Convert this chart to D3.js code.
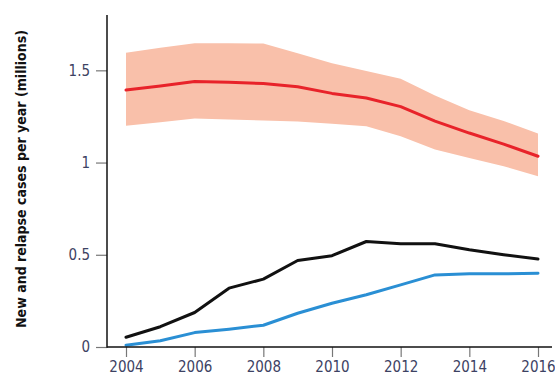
<!DOCTYPE html>
<html><head><meta charset="utf-8">
<script src="https://cdn.jsdelivr.net/npm/d3@7"></script>
<style>body{margin:0;background:#fff}</style>
</head><body>
<svg id="c" width="555" height="380"></svg>
<script>
const years = [2004,2005,2006,2007,2008,2009,2010,2011,2012,2013,2014,2015,2016];
const totalEst = [1.393,1.415,1.44,1.435,1.429,1.411,1.375,1.35,1.303,1.225,1.16,1.10,1.034];
const totalHigh = [1.596,1.623,1.647,1.647,1.645,1.592,1.538,1.496,1.455,1.364,1.284,1.225,1.158];
const totalLow = [1.20,1.219,1.239,1.234,1.228,1.223,1.21,1.197,1.143,1.071,1.025,0.98,0.926];
const notified = [0.053,0.11,0.187,0.319,0.368,0.469,0.495,0.572,0.56,0.56,0.527,0.50,0.477];
const treated = [0.01,0.034,0.078,0.096,0.118,0.183,0.237,0.283,0.337,0.391,0.397,0.397,0.40];
const yTicks = [0,0.5,1,1.5];
const xTicks = [2004,2006,2008,2010,2012,2014,2016];
const yLabel = "New and relapse cases per year (millions)";

const svg = d3.select("#c");
const x = d3.scaleLinear().domain([2004,2016]).range([126,538]);
const y = d3.scaleLinear().domain([0,1.8]).range([347,15]);
const font = "'DejaVu Sans Condensed','DejaVu Sans',sans-serif";
const txtCol = "#3d4263";

const data = years.map((yr,i)=>({yr, est:totalEst[i], hi:totalHigh[i], lo:totalLow[i], n:notified[i], t:treated[i]}));

svg.append("path").datum(data)
  .attr("d", d3.area().x(d=>x(d.yr)).y0(d=>y(d.lo)).y1(d=>y(d.hi)))
  .attr("fill","#f9c0aa");

const line = acc => d3.line().x(d=>x(d.yr)).y(d=>y(acc(d)));
const addLine = (acc,col) => svg.append("path").datum(data).attr("d", line(acc))
  .attr("fill","none").attr("stroke",col).attr("stroke-width",3)
  .attr("stroke-linejoin","round").attr("stroke-linecap","round");
addLine(d=>d.est,"#e8232a");
addLine(d=>d.n,"#111");
addLine(d=>d.t,"#2a8fd4");

// axes
const xAxis = svg.append("g").attr("transform","translate(0,347)")
  .call(d3.axisBottom(x).tickValues(xTicks).tickFormat(d3.format("d")).tickSize(10).tickSizeOuter(0).tickPadding(4));
xAxis.select(".domain").remove();
svg.append("line").attr("x1",107).attr("x2",552).attr("y1",347).attr("y2",347).attr("stroke","#111").attr("stroke-width",1.5);

const yAxis = svg.append("g").attr("transform","translate(107,0)")
  .call(d3.axisLeft(y).tickValues(yTicks).tickFormat(d=>d).tickSize(11).tickSizeOuter(0).tickPadding(6));
yAxis.select(".domain").remove();
svg.append("line").attr("x1",107).attr("x2",107).attr("y1",15).attr("y2",347.75).attr("stroke","#111").attr("stroke-width",1.5);

svg.selectAll(".tick line").attr("stroke","#777").attr("stroke-width",1.2);
svg.selectAll(".tick text").attr("fill",txtCol).style("font-family",font).style("font-size","15px");

svg.append("text").attr("transform","translate(25.5,179) rotate(-90)")
  .attr("text-anchor","middle").style("font-family",font).style("font-weight","bold")
  .style("font-size","14px").attr("fill","#111").text(yLabel);
</script>
</body></html>
